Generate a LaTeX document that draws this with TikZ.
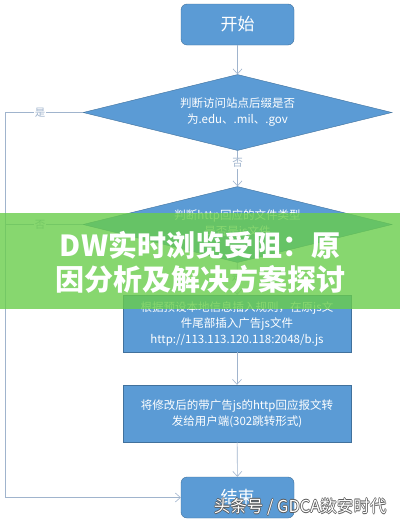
\documentclass[tikz,border=0pt]{standalone}
\usepackage{fontspec}
\newfontfamily\cjk{Noto Sans CJK SC}
\usetikzlibrary{shapes.geometric,arrows.meta}
\definecolor{boxblue}{RGB}{91,155,213}
\definecolor{boxedge}{RGB}{65,113,156}
\definecolor{linkblue}{RGB}{160,180,205}
\definecolor{bannergreen}{RGB}{105,205,75}
\begin{document}
\begin{tikzpicture}[x=1pt,y=-1pt,
    term/.style={rectangle, rounded corners=6pt, fill=boxblue, draw=boxedge, text=white, font=\cjk\fontsize{17}{20}\selectfont, minimum width=113pt, minimum height=41pt},
    choice/.style={diamond, aspect=4, fill=boxblue, draw=boxedge, text=white, font=\cjk\fontsize{11.5}{16}\selectfont, align=center, inner sep=0pt, minimum width=309pt, minimum height=76pt},
    work/.style={rectangle, fill=boxblue, draw=boxedge, text=white, font=\cjk\fontsize{11.5}{16}\selectfont, align=center, minimum width=228pt, minimum height=57pt},
    link/.style={linkblue, line width=0.6pt, -{Straight Barb[length=5pt,width=9pt]}},
    tag/.style={font=\cjk\fontsize{10.5}{12}\selectfont, fill=white, inner sep=1pt}]
            \useasboundingbox (0,0) rectangle (400,522);
            \fill[white] (0,0) rectangle (400,522);

            \node[term] (start) at (237.5,24.5) {开始};
            \node[choice] (ask1) at (237.5,112.5) {判断访问站点后缀是否\\为.edu、.mil、.gov};
            \node[choice] (ask2) at (237.5,224.5) {判断http回应的文件类型\\是否是js文件};
            \node[work] (insert) at (237,323.5) {根据预设本地信息插入规则，在原js文\\件尾部插入广告js文件\\http://113.113.120.118:2048/b.js};
            \node[work] (reply) at (237,413.5) {将修改后的带广告js的http回应报文转\\发给用户端(302跳转形式)};
            \node[term] (stop) at (237.5,497.5) {结束};

            \coordinate (top) at (5,112.5);
            \coordinate (mid) at (5,224.5);
            \coordinate (low) at (5,497.5);

            \draw[link] (start) -- (ask1);
            \draw[link] (ask1) -- node[tag, pos=0.35] {否} (ask2);
            \draw[link] (ask2) -- node[tag, pos=0.45] {是} (insert);
            \draw[link] (insert) -- (reply);
            \draw[link] (reply) -- (stop);
            \draw[link] (ask1.west) -- node[tag, pos=0.55] {是} (top) -- (low) -- (stop.west);
            \draw[linkblue, line width=0.6pt] (ask2.west) -- node[tag, pos=0.55] {否} (mid);

            % banner over the chart
            \fill[bannergreen, opacity=0.8] (0,213) rectangle (400,309);
            \node[font=\cjk\bfseries\fontsize{29}{34}\selectfont, text=white] (title1) at (200,245) {DW实时浏览受阻：原};
            \node[font=\cjk\bfseries\fontsize{29}{34}\selectfont, text=white] (title2) at (200,279) {因分析及解决方案探讨};

            % watermark
            \foreach \dx/\dy in {-0.7/0,0.7/0,0/-0.7,0/0.7}
              \node[font=\cjk\fontsize{16.5}{18}\selectfont, text=black!65, anchor=east] at (390+\dx,507+\dy) {头条号 / GDCA数安时代};
            \node[font=\cjk\fontsize{16.5}{18}\selectfont, text=white, anchor=east] (mark) at (390,507) {头条号 / GDCA数安时代};
\end{tikzpicture}
\end{document}
